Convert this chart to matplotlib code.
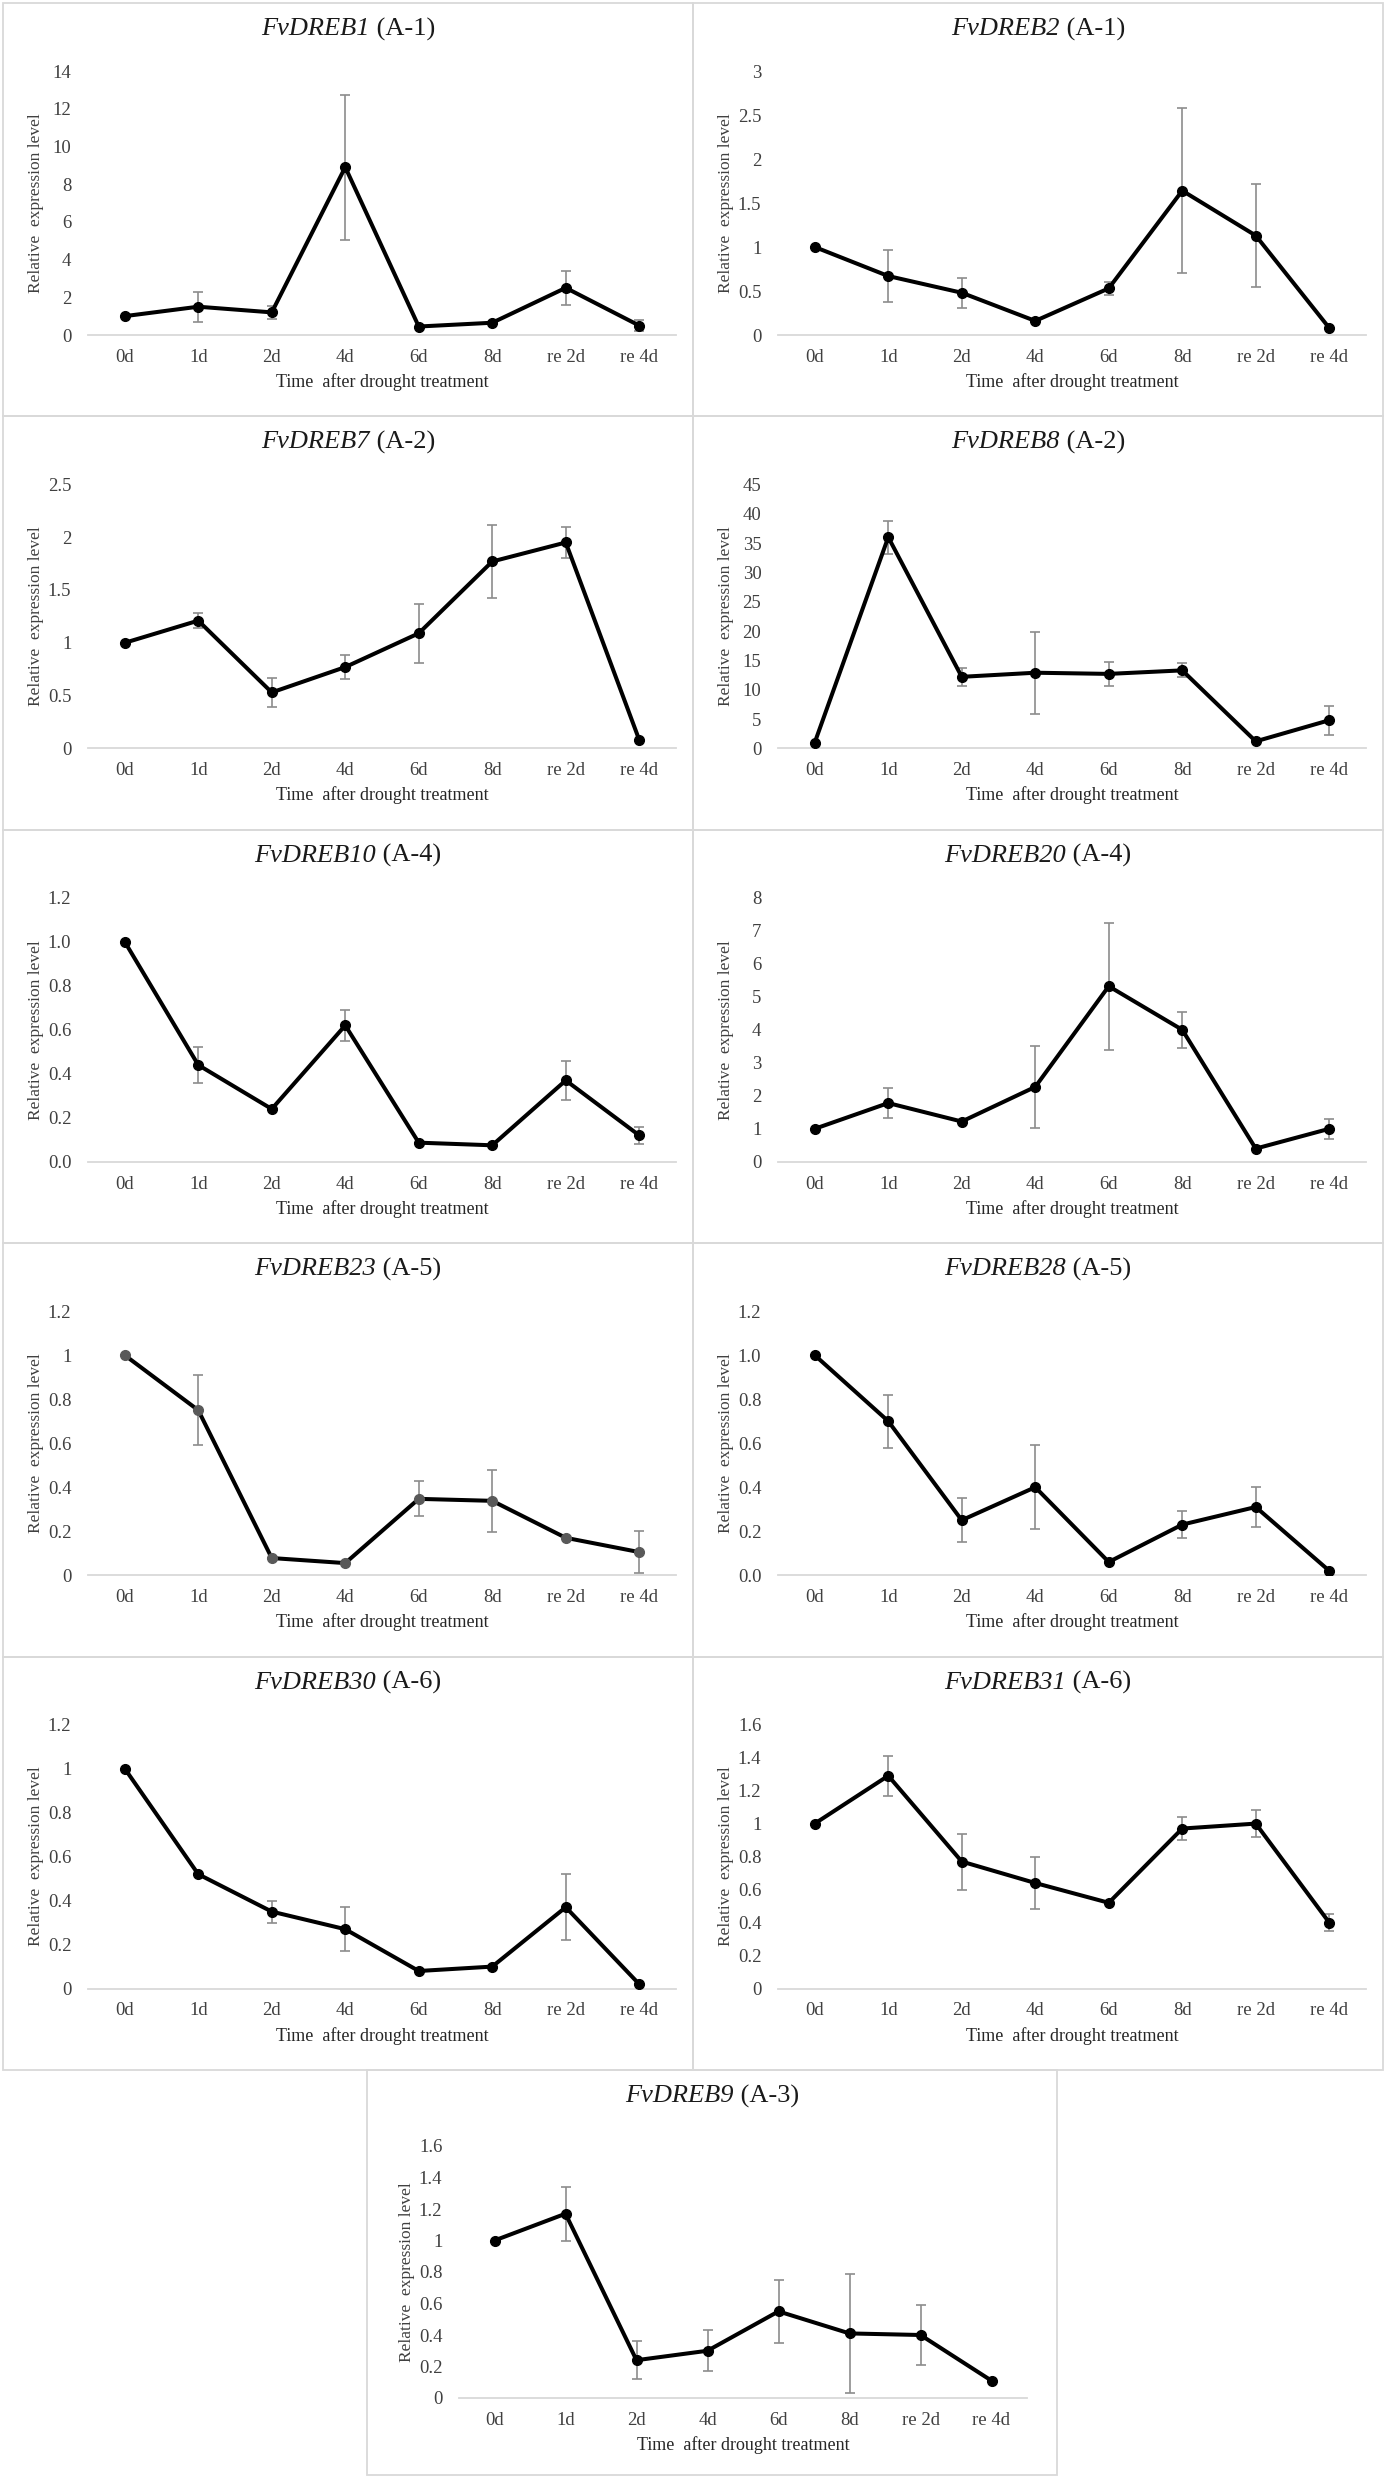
import matplotlib
matplotlib.use('Agg')
import matplotlib.pyplot as plt
from matplotlib.patches import Rectangle
from matplotlib.ticker import FuncFormatter

plt.rcParams['font.family'] = ['Liberation Serif', 'DejaVu Serif']

days = ['0d', '1d', '2d', '4d', '6d', '8d', 're 2d', 're 4d']

genes = ['FvDREB1', 'FvDREB2', 'FvDREB7', 'FvDREB8', 'FvDREB10', 'FvDREB20',
         'FvDREB23', 'FvDREB28', 'FvDREB30', 'FvDREB31', 'FvDREB9']
groups = ['A-1', 'A-1', 'A-2', 'A-2', 'A-4', 'A-4', 'A-5', 'A-5', 'A-6', 'A-6', 'A-3']

dreb1 = [1.0, 1.5, 1.2, 8.9, 0.45, 0.65, 2.5, 0.5]
dreb1_err = [0, 0.8, 0.35, 3.85, 0, 0, 0.9, 0.3]
dreb2 = [1.0, 0.67, 0.48, 0.16, 0.53, 1.64, 1.13, 0.08]
dreb2_err = [0, 0.3, 0.17, 0, 0.07, 0.94, 0.59, 0]
dreb7 = [1.0, 1.21, 0.53, 0.77, 1.09, 1.77, 1.95, 0.08]
dreb7_err = [0, 0.07, 0.14, 0.11, 0.28, 0.35, 0.15, 0]
dreb8 = [1.0, 36.0, 12.2, 12.9, 12.7, 13.3, 1.2, 4.8]
dreb8_err = [0, 2.8, 1.5, 7.0, 2.0, 1.2, 0, 2.5]
dreb10 = [1.0, 0.44, 0.24, 0.62, 0.087, 0.075, 0.37, 0.12]
dreb10_err = [0, 0.08, 0, 0.07, 0, 0, 0.09, 0.04]
dreb20 = [1.0, 1.78, 1.22, 2.27, 5.32, 4.0, 0.4, 1.0]
dreb20_err = [0, 0.45, 0, 1.24, 1.93, 0.55, 0, 0.3]
dreb23 = [1.0, 0.75, 0.078, 0.055, 0.347, 0.338, 0.17, 0.105]
dreb23_err = [0, 0.16, 0, 0, 0.08, 0.14, 0, 0.095]
dreb28 = [1.0, 0.7, 0.25, 0.4, 0.06, 0.23, 0.31, 0.02]
dreb28_err = [0, 0.12, 0.1, 0.19, 0, 0.06, 0.09, 0]
dreb30 = [1.0, 0.52, 0.35, 0.27, 0.08, 0.1, 0.37, 0.02]
dreb30_err = [0, 0, 0.05, 0.1, 0, 0, 0.15, 0]
dreb31 = [1.0, 1.29, 0.77, 0.64, 0.52, 0.97, 1.0, 0.4]
dreb31_err = [0, 0.12, 0.17, 0.16, 0, 0.07, 0.08, 0.05]
dreb9 = [1.0, 1.17, 0.24, 0.3, 0.55, 0.41, 0.4, 0.11]
dreb9_err = [0, 0.17, 0.12, 0.13, 0.2, 0.38, 0.19, 0]

means = [dreb1, dreb2, dreb7, dreb8, dreb10, dreb20, dreb23, dreb28, dreb30, dreb31, dreb9]
errs = [dreb1_err, dreb2_err, dreb7_err, dreb8_err, dreb10_err, dreb20_err,
        dreb23_err, dreb28_err, dreb30_err, dreb31_err, dreb9_err]
ymax = [14, 3, 2.5, 45, 1.2, 8, 1.2, 1.2, 1.2, 1.6, 1.6]
ystep = [2, 0.5, 0.5, 5, 0.2, 1, 0.2, 0.2, 0.2, 0.2, 0.2]
yfmt = ['g', 'g', 'g', 'g', '.1f', 'g', 'g', '.1f', 'g', 'g', 'g']

W, H = 1387, 2480
fig = plt.figure(figsize=(W / 100, H / 100), dpi=100)
rend = fig.canvas.get_renderer()

# panel boxes in pixels: (left, top, width, height) and plot area offsets
pw, ph = 690, 413.4
boxes = []
plots = []
for i in range(10):
    r, c = i // 2, i % 2
    boxes.append((3 + c * pw, 3 + r * ph, pw, ph))
    plots.append((85, 68, 588, 264))
boxes.append((367, 3 + 5 * ph, pw, 405))
plots.append((92, 76, 568, 252))

border = '#d9d9d9'
for k in range(11):
    L, T, bw, bh = boxes[k]
    px, py, pww, phh = plots[k]
    fig.patches.append(Rectangle((L / W, 1 - (T + bh) / H), bw / W, bh / H,
                                 transform=fig.transFigure, fill=False,
                                 edgecolor=border, lw=1.3))

    ax = fig.add_axes([(L + px) / W, 1 - (T + py + phh) / H, pww / W, phh / H])
    x = list(range(len(days)))
    mc = '#595959' if genes[k] == 'FvDREB23' else 'black'
    ax.errorbar(x, means[k], yerr=errs[k], fmt='none', ecolor='#8c8c8c',
                elinewidth=1.2, capsize=3.6, capthick=1.2, zorder=2)
    ax.plot(x, means[k], color='black', lw=2.9, zorder=3)
    ax.plot(x, means[k], 'o', color=mc, ms=7, zorder=4)

    ax.set_xlim(-0.5, len(days) - 0.5)
    ax.set_ylim(0, ymax[k])
    n = int(round(ymax[k] / ystep[k]))
    ax.set_yticks([ystep[k] * j for j in range(n + 1)])
    f = yfmt[k]
    ax.yaxis.set_major_formatter(FuncFormatter(lambda v, p, f=f: format(v, f)))
    ax.set_xticks(x)
    ax.set_xticklabels(days)
    ax.tick_params(length=0, labelsize=13.5, colors='#404040', pad=10)
    ax.tick_params(axis='y', pad=12)
    for s in ['top', 'right', 'left']:
        ax.spines[s].set_visible(False)
    ax.spines['bottom'].set_color(border)
    ax.spines['bottom'].set_linewidth(1.3)

    ax.text(0.5, -47 / phh, 'Time  after drought treatment', transform=ax.transAxes,
            ha='center', va='center', fontsize=13, color='#262626')
    ax.text(-52 / pww, 0.5, 'Relative  expression level', transform=ax.transAxes,
            ha='center', va='center', rotation=90, fontsize=12.5, color='#404040')

    # title: italic gene name + upright group, centred together over the panel
    ty = 1 - (T + 26) / H
    t1 = fig.text(0, ty, genes[k], style='italic', fontsize=19, color='#1a1a1a',
                  ha='left', va='center')
    t2 = fig.text(0, ty, ' (' + groups[k] + ')', fontsize=19, color='#1a1a1a',
                  ha='left', va='center')
    w1 = t1.get_window_extent(rend).width
    w2 = t2.get_window_extent(rend).width
    x0 = L + bw / 2 - (w1 + w2) / 2
    t1.set_x(x0 / W)
    t2.set_x((x0 + w1) / W)

fig.savefig('out.png', dpi=100)
